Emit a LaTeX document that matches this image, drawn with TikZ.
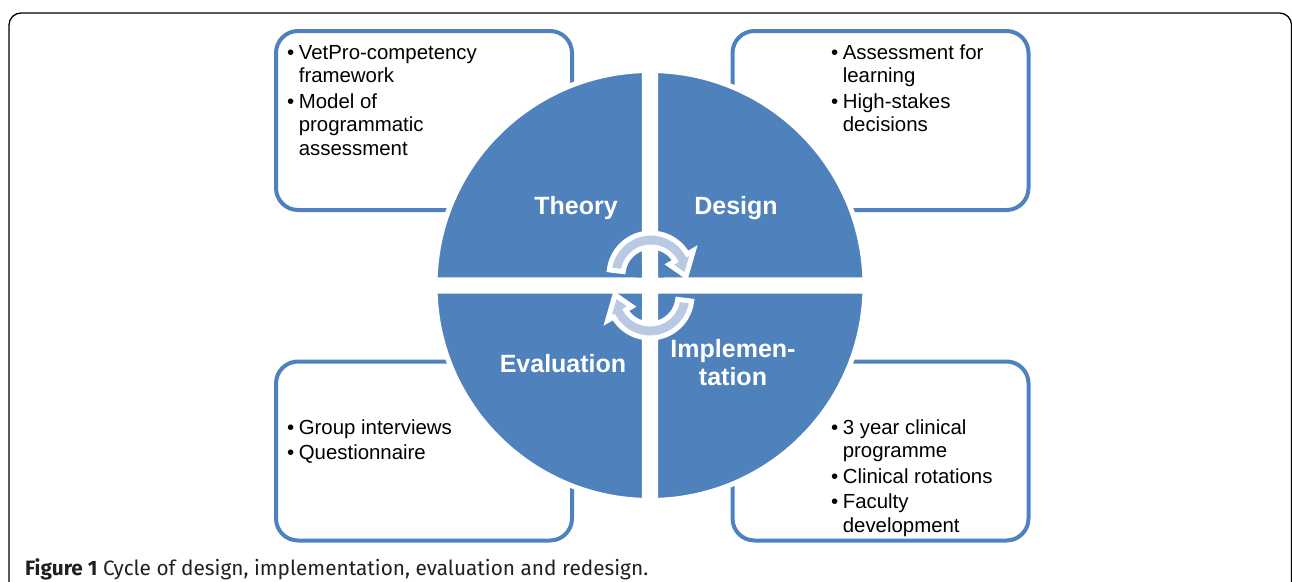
\documentclass[tikz,border=0pt]{standalone}
\usepackage{fontspec}
\setmainfont{Liberation Sans}
\newfontfamily\captionfont{Fira Sans}
\usetikzlibrary{positioning,calc}

\definecolor{quadblue}{HTML}{4F81BD}
\definecolor{arrowblue}{HTML}{B9C9E3}
\definecolor{captiongray}{HTML}{231F20}

% one of the two turning arrows, drawn round its own centre
\newcommand{\cyclearrow}{%
    \filldraw[arrowfill] (187:42) arc[start angle=187, end angle=330, radius=42]
        -- (330:49) -- (2:35) -- (330:21) -- (330:28)
        arc[start angle=330, end angle=187, radius=28] -- cycle;
}

\tikzset{
    box/.style={draw=quadblue, line width=4pt, rounded corners=22pt,
        minimum width=296pt, minimum height=179pt, inner sep=0pt},
    quad/.style={fill=quadblue, draw=white, line width=5pt},
    quadlabel/.style={text=white, font=\fontsize{25}{28}\selectfont\bfseries,
        align=center, inner sep=0pt, anchor=base},
    items/.style={font=\fontsize{20.4}{23.5}\selectfont, inner sep=0pt, anchor=base west},
    arrowfill/.style={fill=arrowblue, draw=white, line width=5pt, line join=miter},
}

\begin{document}
\begin{tikzpicture}[x=1pt, y=-1pt]
    \useasboundingbox (0,0) rectangle (1292,581);

    % outer frame
    \draw[line width=1.3pt, rounded corners=12pt] (9,13) rectangle (1291.5,650);

    % text boxes
    \node[box] (theorybox) at (424,120.5) {};
    \node[box] (designbox) at (880.5,120.5) {};
    \node[box] (evalbox) at (424,451) {};
    \node[box] (implbox) at (880.5,451) {};

    \node[items] (theorytext) at ($(theorybox.north west)+(13,30)$) {%
        \begin{tabular}[t]{@{}l@{\hspace{4.5pt}}l@{}}
            \textbullet & VetPro-competency\\
                        & framework\\[2pt]
            \textbullet & Model of\\
                        & programmatic\\
                        & assessment
        \end{tabular}};
    \node[items] (designtext) at ($(designbox.north west)+(100.5,30)$) {%
        \begin{tabular}[t]{@{}l@{\hspace{4.5pt}}l@{}}
            \textbullet & Assessment for\\
                        & learning\\[2pt]
            \textbullet & High-stakes\\
                        & decisions
        \end{tabular}};
    \node[items] (evaltext) at ($(evalbox.north west)+(13,74.5)$) {%
        \begin{tabular}[t]{@{}l@{\hspace{4.5pt}}l@{}}
            \textbullet & Group interviews\\[2pt]
            \textbullet & Questionnaire
        \end{tabular}};
    \node[items] (impltext) at ($(implbox.north west)+(100.5,74.5)$) {%
        \begin{tabular}[t]{@{}l@{\hspace{4.5pt}}l@{}}
            \textbullet & 3 year clinical\\
                        & programme\\[2pt]
            \textbullet & Clinical rotations\\[2pt]
            \textbullet & Faculty\\
                        & development
        \end{tabular}};

    % the four quarters of the cycle
    \coordinate (O) at (650,285.5);
    \foreach \a/\sx/\sy in {180/-1/-1, 270/1/-1, 0/1/1, 90/-1/1}{
        \pgfmathsetmacro{\startang}{\a + 1.5}
        \pgfmathsetmacro{\endang}{\a + 88.5}
        \filldraw[quad] ($(O)+(5.5*\sx,5.5*\sy)$) -- ($(O)+(\startang:215)$)
            arc[start angle=\startang, end angle=\endang, radius=215] -- cycle;
    }

    \node[quadlabel] (theory) at (576,214) {Theory};
    \node[quadlabel] (design) at (736,214) {Design};
    \node[quadlabel] (evaluation) at (563,372) {Evaluation};
    \node[quadlabel] (implementation) at (733,385) {Implemen-\\tation};

    % turning arrows in the middle
    \begin{scope}[shift={(651,275)}]
        \cyclearrow
    \end{scope}
    \begin{scope}[shift={(650,296)}, rotate=180]
        \cyclearrow
    \end{scope}

    % caption
    \node[anchor=base west, inner sep=0pt, text=captiongray,
        font=\captionfont\fontsize{20.8}{24}\selectfont]
        (caption) at (25,575) {\textbf{Figure 1} Cycle of design, implementation, evaluation and redesign.};
\end{tikzpicture}
\end{document}
